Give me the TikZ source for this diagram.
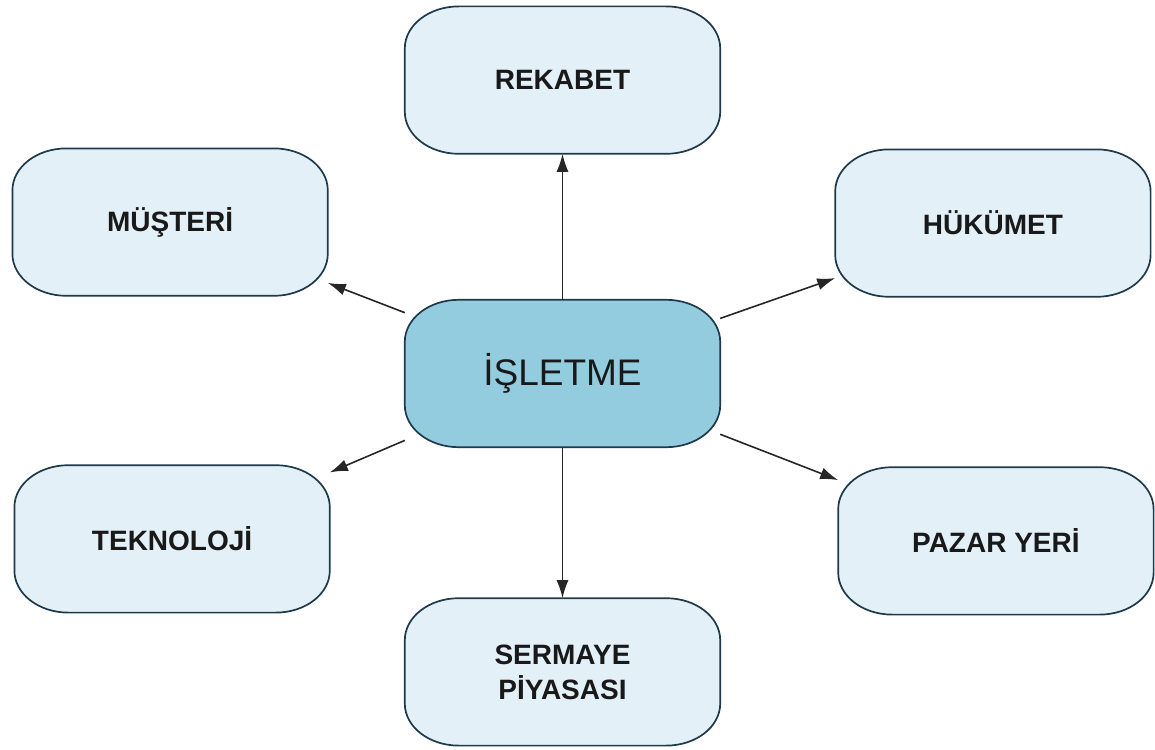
\documentclass[tikz,border=0pt]{standalone}
\usepackage{fontspec}
\setmainfont{Liberation Sans}
\usetikzlibrary{positioning, arrows.meta, backgrounds}

\definecolor{boxfill}{HTML}{E3F0F8}
\definecolor{firmfill}{HTML}{93CBDF}
\definecolor{boxline}{HTML}{1E3A4A}

\begin{document}
\begin{tikzpicture}

        % Define block styles
        \tikzstyle{factor} = [rectangle, text=black!90, text centered, align=center, minimum width=315pt, minimum height=147pt, font=\fontsize{28}{35}\selectfont\bfseries]
        \tikzstyle{firm} = [factor, font=\fontsize{37}{44}\selectfont]
        \tikzstyle{outline} = [draw=boxline, line width=1.7pt]
        \tikzstyle{arrow} = [line width=1.6pt, draw=black!85, -{Latex[length=18pt,width=12pt]}]

        \useasboundingbox (0,0) rectangle (1155pt,-749pt);

        % Components
        \node (isletme) [firm] at (562.5pt,-373.5pt) {İŞLETME};
        \node (rekabet) [factor, above=146pt of isletme] {REKABET};
        \node (sermaye) [factor, below=151pt of isletme] {SERMAYE\\PİYASASI};
        \node (musteri) [factor, above left=4pt and 77pt of isletme] {MÜŞTERİ};
        \node (hukumet) [factor, above right=3pt and 115pt of isletme] {HÜKÜMET};
        \node (teknoloji) [factor, below left=18pt and 75pt of isletme] {TEKNOLOJİ};
        \node (pazar) [factor, below right=20pt and 118pt of isletme] {PAZAR YERİ};

        % Oval boxes behind the texts
        \begin{scope}[on background layer]
          \foreach \n/\col in {isletme/firmfill, rekabet/boxfill, sermaye/boxfill, musteri/boxfill,
                               hukumet/boxfill, teknoloji/boxfill, pazar/boxfill}
            \draw [outline, fill=\col] ([xshift=54pt]\n.north west) -- ([xshift=-54pt]\n.north east)
              arc[start angle=90, end angle=0, x radius=54pt, y radius=42pt] -- ([yshift=42pt]\n.south east)
              arc[start angle=0, end angle=-90, x radius=54pt, y radius=42pt] -- ([xshift=54pt]\n.south west)
              arc[start angle=270, end angle=180, x radius=54pt, y radius=42pt] -- ([yshift=-42pt]\n.north west)
              arc[start angle=180, end angle=90, x radius=54pt, y radius=42pt] -- cycle;
        \end{scope}

        % Arrows
        \draw [arrow] (isletme) -- (rekabet);
        \draw [arrow] (isletme) -- (sermaye);
        \draw [arrow] (isletme) -- (musteri);
        \draw [arrow] (isletme) -- (hukumet);
        \draw [arrow] (isletme) -- (teknoloji);
        \draw [arrow] (isletme) -- (pazar);

      \end{tikzpicture}
\end{document}
